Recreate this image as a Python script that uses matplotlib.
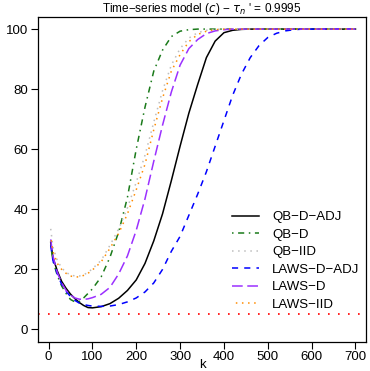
import matplotlib
matplotlib.use("Agg")
import matplotlib.pyplot as plt

plt.rcParams['font.family'] = ['Liberation Sans', 'DejaVu Sans']

k = [5, 10, 20, 30, 40, 50, 60, 70, 80, 90,
     100, 120, 140, 160, 180, 200, 220, 240, 260, 280,
     300, 320, 340, 360, 380, 400, 420, 440, 460, 480,
     500, 520, 540, 560, 580, 600, 650, 700]

qb_d_adj = [29, 24, 19.5, 16, 13.7, 11.8, 10.3, 9, 8, 7.3,
            7.2, 7.6, 8.6, 10.4, 13, 16.5, 22, 29.5, 38.5, 49.5,
            61, 72, 81.5, 90.5, 96, 98.8, 99.6, 99.9, 100, 100,
            100, 100, 100, 100, 100, 100, 100, 100]
qb_d = [28, 23, 18, 14.5, 12, 10, 9.2, 9.3, 10.5, 12,
        13.5, 17.5, 24, 32.5, 44, 60, 74, 86, 93, 97.5,
        99.3, 99.8, 100, 100, 100, 100, 100, 100, 100, 100,
        100, 100, 100, 100, 100, 100, 100, 100]
qb_iid = [33.5, 27.5, 23, 20.5, 19, 18.2, 17.8, 17.8, 18.2, 19,
          20.2, 23, 28, 33.5, 40.5, 49, 58, 69, 79.5, 88,
          93.5, 97, 98.8, 99.6, 99.9, 100, 100, 100, 100, 100,
          100, 100, 100, 100, 100, 100, 100, 100]
laws_d_adj = [28, 23, 18.5, 15, 12.7, 11, 9.7, 8.8, 8.3, 8,
              7.8, 7.7, 7.8, 8.3, 9.2, 10.5, 12.5, 15.5, 20, 26,
              31, 38, 45, 52.5, 61, 69.5, 78, 85, 90.5, 94.5,
              97.2, 98.6, 99.4, 99.8, 100, 100, 100, 100]
laws_d = [30, 24.5, 19, 15.5, 13, 11.5, 10.5, 10.1, 10, 10.2,
          10.6, 11.7, 14, 18.5, 24.5, 33, 43.5, 56, 68, 79,
          88, 93.5, 96.5, 98.5, 99.4, 99.8, 100, 100, 100, 100,
          100, 100, 100, 100, 100, 100, 100, 100]
laws_iid = [31, 26, 22, 20, 18.7, 17.8, 17.5, 17.5, 18, 18.7,
            19.8, 22.5, 27, 32, 38.5, 46.5, 55, 66.5, 77, 86,
            91.5, 95.8, 98.2, 99.3, 99.8, 100, 100, 100, 100, 100,
            100, 100, 100, 100, 100, 100, 100, 100]

nominal = 5

fig = plt.figure(figsize=(3.70, 3.71), dpi=100)
ax = fig.add_axes([0.1027, 0.0795, 0.8865, 0.8745])

lw = 1.1
ax.plot(k, qb_d_adj, color='black', lw=lw, ls='-', label='QB\u2212D\u2212ADJ')
ax.plot(k, qb_d, color='#1a7a1a', lw=lw, ls=(0, (1, 3, 4, 3)), label='QB\u2212D')
ax.plot(k, qb_iid, color='#bebebe', lw=lw, ls=(0, (1, 3)), label='QB\u2212IID')
ax.plot(k, laws_d_adj, color='#0000ff', lw=lw, ls=(0, (4, 4)), label='LAWS\u2212D\u2212ADJ')
ax.plot(k, laws_d, color='#9b30ff', lw=lw, ls=(0, (7, 3)), label='LAWS\u2212D')
ax.plot(k, laws_iid, color='#ff8c00', lw=lw, ls=(1.5, (1, 3)), label='LAWS\u2212IID')
ax.axhline(nominal, color='red', lw=1.2, ls=(0, (1, 5)))

ax.set_xlim(-24, 724)
ax.set_ylim(-4, 104)
ax.set_xticks([0, 100, 200, 300, 400, 500, 600, 700])
ax.set_yticks([0, 20, 40, 60, 80, 100])
ax.tick_params(direction='out', length=5, width=0.8, labelsize=9.5, pad=2)
for s in ax.spines.values():
    s.set_linewidth(0.9)
ax.set_xlabel('k', fontsize=9.5, labelpad=-3)
ax.set_title("Time\u2212series model ($\\mathit{c}$) \u2212 $\\tau_n$ ' = 0.9995",
             fontsize=8.5, pad=1.5)

ax.legend(loc='lower right', bbox_to_anchor=(1.016, 0.058), frameon=False,
          fontsize=9.5, handlelength=2.05, handletextpad=1.0, labelspacing=0.4)

fig.savefig('out.png', dpi=100)
